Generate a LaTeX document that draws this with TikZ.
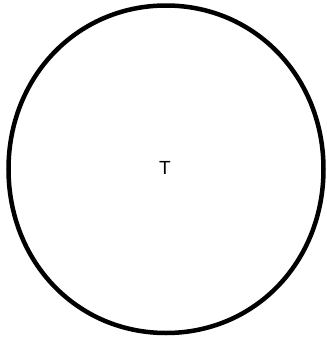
\documentclass[tikz,border=0pt]{standalone}
\usepackage{fontspec}
\setmainfont{Liberation Sans}
\begin{document}
\begin{tikzpicture}[x=1pt,y=-1pt,
  outline/.style={line width=4.5pt,draw=black},
  lbl/.style={font=\fontsize{19}{22}\selectfont,inner sep=0pt}]
\useasboundingbox (0,0) rectangle (327,341);
\coordinate (T) at (166,5.5);
\coordinate (R) at (323.5,169);
\coordinate (B) at (166,333);
\coordinate (L) at (8.5,169);
\draw[outline] (T) .. controls (255,5.5) and (323.5,77) .. (R)
  .. controls (323.5,262) and (255,333) .. (B)
  .. controls (77,333) and (8.5,262) .. (L)
  .. controls (8.5,77) and (77,5.5) .. (T) -- cycle;
\node[lbl] (t) at (165,168) {T};
\end{tikzpicture}
\end{document}
